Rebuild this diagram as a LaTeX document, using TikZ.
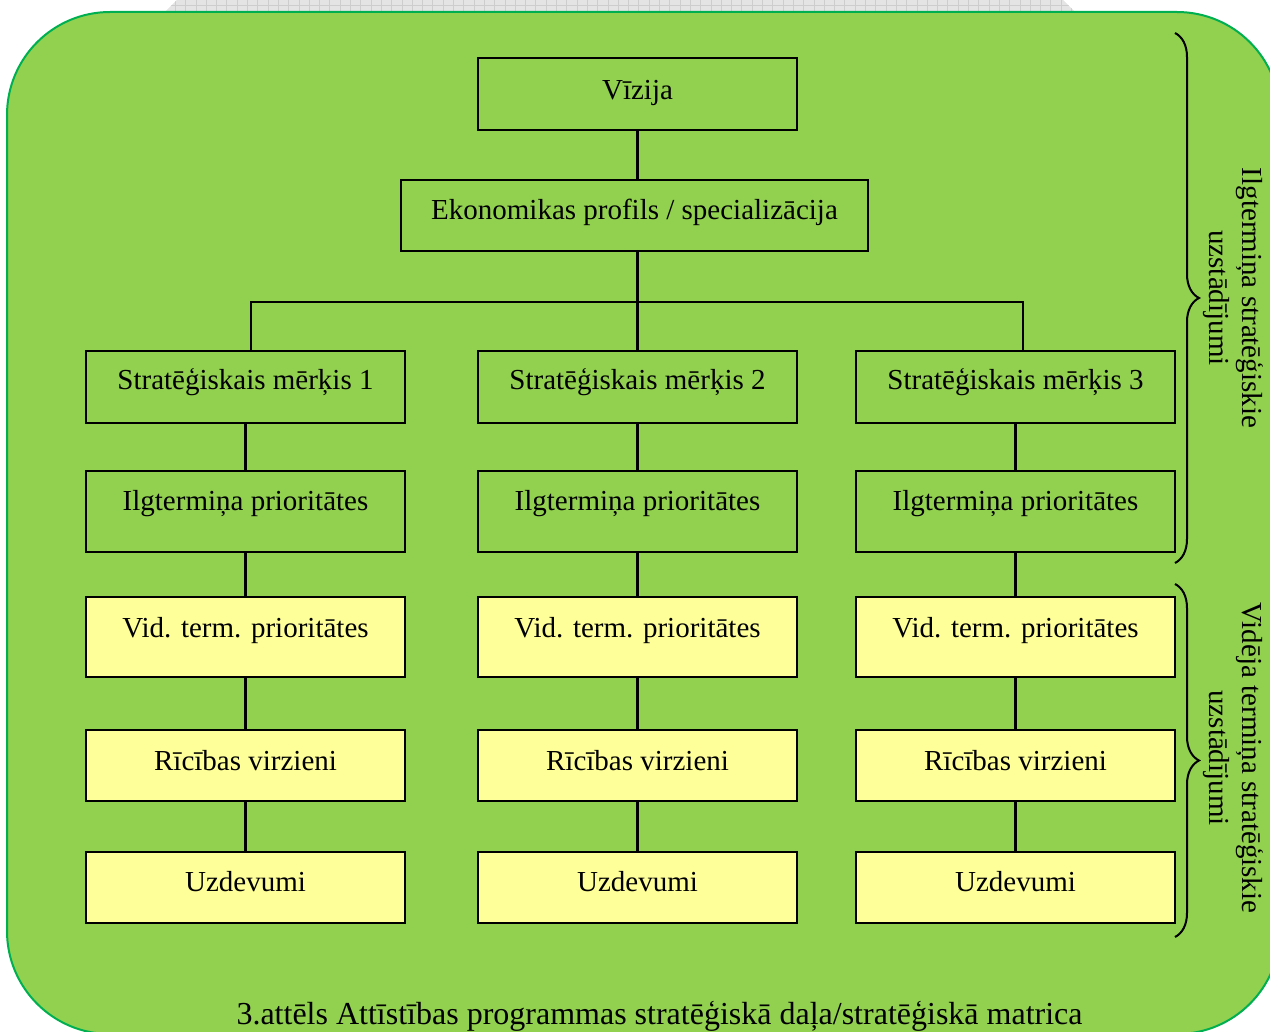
\documentclass[tikz,border=0pt]{standalone}
\usepackage{fontspec}
\setmainfont{Liberation Serif}
\usetikzlibrary{decorations.pathreplacing}
\definecolor{bggreen}{HTML}{92D050}
\definecolor{edgegreen}{HTML}{00B050}
\definecolor{boxyellow}{HTML}{FFFF99}
\definecolor{stripgrey}{HTML}{E4E4E4}
\definecolor{gridgrey}{HTML}{CDCDCD}
\tikzset{
  box/.style={draw=black, line width=2.5pt, inner sep=0pt, minimum width=319pt,
    font=\fontsize{29}{33}\selectfont},
  gbox/.style={box, fill=bggreen},
  ybox/.style={box, fill=boxyellow},
  conn/.style={line width=2.5pt, draw=black},
  bracestyle/.style={line width=2pt, decorate, decoration={brace, amplitude=24pt}},
  sidelabel/.style={rotate=-90, align=center, inner sep=0pt, font=\fontsize{29}{33}\selectfont},
}
\begin{document}
\begin{tikzpicture}[x=1pt,y=-1pt]
\useasboundingbox (0,0) rectangle (1270,1032);
% grey hatched strip at the top
\begin{scope}
  \clip (165,12) -- (177,0) -- (1063,0) -- (1075,12) -- cycle;
  \fill[stripgrey] (160,-1) rectangle (1080,13);
  \foreach \i in {0,...,90} \draw[gridgrey, line width=0.8pt] (165+\i*10.3,0) -- ++(0,12);
  \draw[gridgrey, line width=0.8pt] (160,5.5) -- (1080,5.5);
\end{scope}
% green background
\draw[fill=bggreen, draw=edgegreen, line width=2pt, rounded corners=103pt] (7,12) rectangle (1280,1034);

% boxes
\node[gbox, text height=42pt, text depth=30pt] (viz) at (637.5,94) {Vīzija};
\node[gbox, minimum width=467pt, text height=40pt, text depth=31pt] (eko) at (634.5,215.5) {Ekonomikas profils / specializācija};

\foreach \c/\x in {1/245.5, 2/637.5, 3/1015.5} {
  \node[gbox, text height=39pt, text depth=33pt] (m\c) at (\x,387) {Stratēģiskais mērķis \c};
  \node[gbox, text height=39pt, text depth=42pt] (il\c) at (\x,511.5) {Ilgtermiņa prioritātes};
  \node[ybox, text height=40pt, text depth=40pt] (vid\c) at (\x,637) {Vid. term. prioritātes};
  \node[ybox, text height=40pt, text depth=31pt] (ric\c) at (\x,765.5) {Rīcības virzieni};
  \node[ybox, text height=39pt, text depth=32pt] (uzd\c) at (\x,887.5) {Uzdevumi};
}

% connectors
\coordinate (busL) at (251,302);
\coordinate (busR) at (1023,302);
\draw[conn] (viz.south) -- (viz.south |- eko.north);
\draw[conn] (m2.north |- eko.south) -- (m2.north);
\draw[conn] (m1.north -| busL) -- (busL) -- (busR) -- (m3.north -| busR);
\foreach \c in {1,2,3} {
  \draw[conn] (m\c) -- (il\c);
  \draw[conn] (il\c) -- (vid\c);
  \draw[conn] (vid\c) -- (ric\c);
  \draw[conn] (ric\c) -- (uzd\c);
}

% braces and side labels
\coordinate (b1s) at (1175,33);
\coordinate (b1e) at (1175,563);
\coordinate (b2s) at (1175,584);
\coordinate (b2e) at (1175,937);
\draw[bracestyle] (b1s) -- (b1e);
\draw[bracestyle] (b2s) -- (b2e);
\node[sidelabel] (lab1) at (1233,298) {Ilgtermiņa stratēģiskie\\uzstādījumi};
\node[sidelabel] (lab2) at (1233,758) {Vidēja termiņa stratēģiskie\\uzstādījumi};

% caption
\node[anchor=base, inner sep=0pt, font=\fontsize{32}{36}\selectfont] (cap) at (659.5,1024)
  {3.attēls Attīstības programmas stratēģiskā daļa/stratēģiskā matrica};
\end{tikzpicture}
\end{document}
